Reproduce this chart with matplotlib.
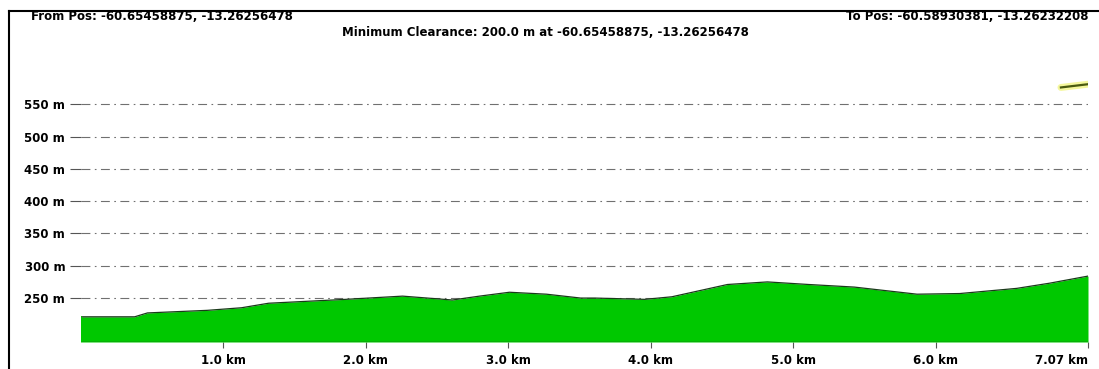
import numpy as np
from matplotlib import pyplot as plt
from matplotlib.lines import Line2D

# 地形剖面数据（距离 km，海拔 m）
dist_km = [0.0, 0.38, 0.47, 0.89, 1.13, 1.32, 1.86, 2.26, 2.61, 2.80, 3.01,
           3.27, 3.51, 3.61, 3.96, 4.15, 4.54, 4.82, 5.11, 5.43, 5.63, 5.87,
           6.17, 6.57, 6.80, 7.07]
elev_m = [221, 221, 227, 231, 235, 242, 248, 253, 247, 253, 259,
          256, 250, 250, 248, 252, 271, 275, 271, 267, 262, 256,
          257, 265, 273, 284]
# 视线（黄色）
los_km = [6.88, 7.07]
los_m = [576, 581]

y_ticks = [250, 300, 350, 400, 450, 500, 550]
x_ticks = [1.0, 2.0, 3.0, 4.0, 5.0, 6.0, 7.07]
x_labels = ['1.0 km', '2.0 km', '3.0 km', '4.0 km', '5.0 km', '6.0 km', '7.07 km']

from_txt = 'From Pos: -60.65458875, -13.26256478'
to_txt = 'To Pos: -60.58930381, -13.26232208'
min_txt = 'Minimum Clearance: 200.0 m at -60.65458875, -13.26256478'

plt.rcParams['font.family'] = ['Liberation Sans Narrow', 'DejaVu Sans']

fig = plt.figure(figsize=(10.99, 3.69), dpi=100)
W, H = 1099.0, 369.0
ax = fig.add_axes([80.5 / W, 1 - 342 / H, (1088 - 80.5) / W, (342 - 78.4) / H])
ax.set_xlim(0, 7.07)
ax.set_ylim(182, 590)

# 网格线（点划线）
for v in y_ticks:
    ax.axhline(v, color='#707070', lw=0.8, ls=(0, (8, 4, 1.5, 4)), zorder=1)

# 地形填充
ax.fill_between(dist_km, elev_m, 182, color='#00c800', zorder=2, lw=0)
ax.plot(dist_km, elev_m, color='#1a3a1a', lw=0.9, zorder=3)
ax.plot([0, 7.07], [182.5, 182.5], color='#205020', lw=1.0, zorder=3)
ax.plot([0, 0], [182, elev_m[0]], color='#00c800', lw=1.2, zorder=3)

# 视线
ax.plot(los_km, los_m, color='#eef25a', lw=5, alpha=0.6, zorder=4, solid_capstyle='round')
ax.plot(los_km, los_m, color='#4a5a10', lw=1.6, zorder=5)

ax.set_yticks(y_ticks)
ax.set_yticklabels(['%d m' % v for v in y_ticks], fontsize=8.5, fontweight='bold')
ax.set_xticks(x_ticks)
ax.set_xticklabels(x_labels, fontsize=8.5, fontweight='bold')
ax.get_xticklabels()[-1].set_horizontalalignment('right')
ax.tick_params(axis='y', length=8, width=0.8, color='#555555', pad=3)
ax.tick_params(axis='x', length=4, width=0.8, color='#555555', pad=5)
for s in ax.spines.values():
    s.set_visible(False)

# 标题文字
fig.text(31 / W, 1 - 17 / H, from_txt, fontsize=8.5, fontweight='bold', va='center', ha='left')
fig.text(1088 / W, 1 - 17 / H, to_txt, fontsize=8.5, fontweight='bold', va='center', ha='right')
fig.text(545 / W, 1 - 33 / H, min_txt, fontsize=8.5, fontweight='bold', va='center', ha='center')

# 外框
fig.add_artist(Line2D([9 / W, 9 / W], [0, 1 - 11 / H], color='black', lw=1.5, transform=fig.transFigure))
fig.add_artist(Line2D([9 / W, 1], [1 - 11 / H, 1 - 11 / H], color='black', lw=1.5, transform=fig.transFigure))

fig.savefig('out.png', dpi=100)
